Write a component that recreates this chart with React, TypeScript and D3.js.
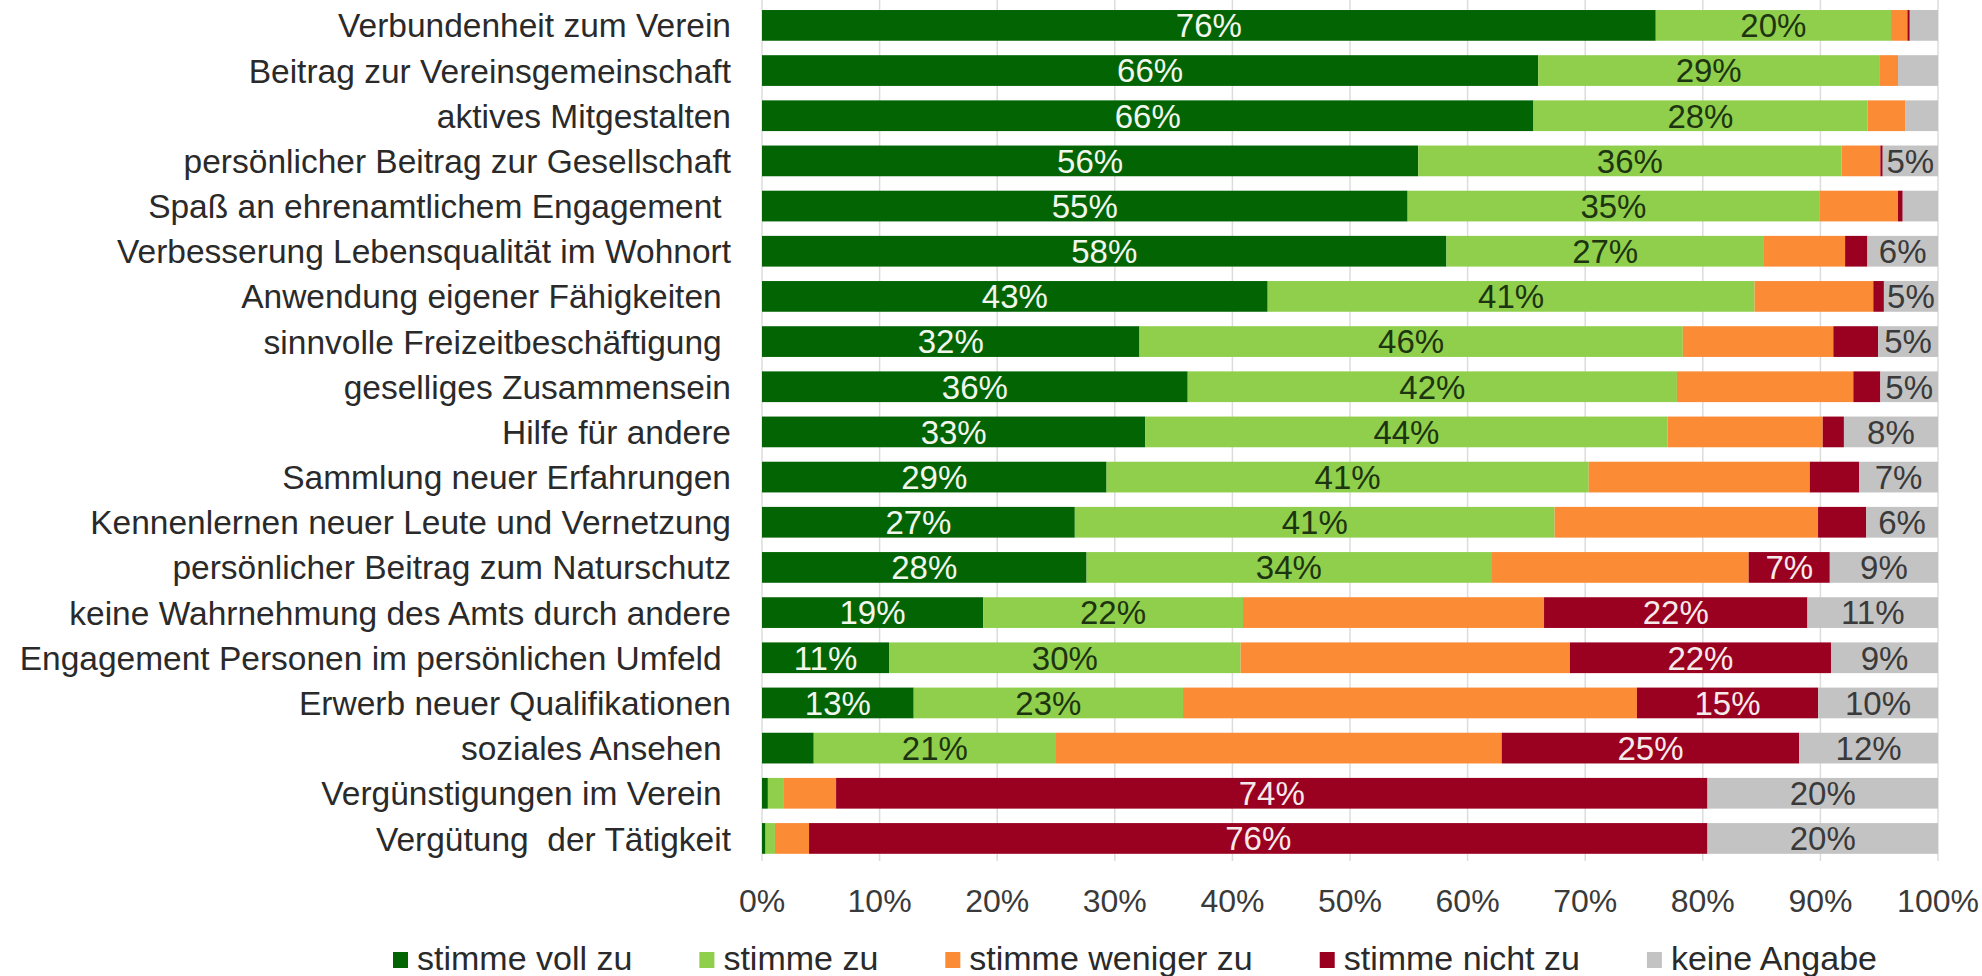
import React, { useEffect, useRef } from "react";
import * as d3 from "d3";

const categories = [
  "Verbundenheit zum Verein",
  "Beitrag zur Vereinsgemeinschaft",
  "aktives Mitgestalten",
  "persönlicher Beitrag zur Gesellschaft",
  "Spaß an ehrenamtlichem Engagement ",
  "Verbesserung Lebensqualität im Wohnort",
  "Anwendung eigener Fähigkeiten ",
  "sinnvolle Freizeitbeschäftigung ",
  "geselliges Zusammensein",
  "Hilfe für andere",
  "Sammlung neuer Erfahrungen",
  "Kennenlernen neuer Leute und Vernetzung",
  "persönlicher Beitrag zum Naturschutz",
  "keine Wahrnehmung des Amts durch andere",
  "Engagement Personen im persönlichen Umfeld ",
  "Erwerb neuer Qualifikationen",
  "soziales Ansehen ",
  "Vergünstigungen im Verein ",
  "Vergütung  der Tätigkeit",
];

const stimmeVollZu = [76, 66, 65.6, 55.8, 54.9, 58.2, 43.0, 32.1, 36.2, 32.6, 29.3, 26.6, 27.6, 18.8, 10.8, 12.9, 4.4, 0.5, 0.3];
const stimmeZu = [20, 29, 28.4, 36.0, 35.0, 27.0, 41.4, 46.2, 41.6, 44.4, 41.0, 40.8, 34.4, 22.1, 29.9, 22.9, 20.6, 1.3, 0.8];
const stimmeWenigerZu = [1.4, 1.6, 3.2, 3.3, 6.7, 6.9, 10.1, 12.8, 15.0, 13.2, 18.8, 22.4, 21.9, 25.6, 28.0, 38.6, 37.9, 4.5, 2.9];
const stimmeNichtZu = [0.2, 0, 0, 0.2, 0.4, 1.9, 0.9, 3.8, 2.3, 1.8, 4.2, 4.1, 6.9, 22.4, 22.2, 15.4, 25.3, 74.1, 76.4];
const keineAngabe = [2.4, 3.4, 2.8, 4.7, 3.0, 6.0, 4.6, 5.1, 4.9, 8.0, 6.7, 6.1, 9.2, 11.1, 9.1, 10.2, 11.8, 19.6, 19.6];

const seriesNames = ["stimme voll zu", "stimme zu", "stimme weniger zu", "stimme nicht zu", "keine Angabe"];
const seriesValues = [stimmeVollZu, stimmeZu, stimmeWenigerZu, stimmeNichtZu, keineAngabe];
const seriesColors = ["#036403", "#8fcf4c", "#fb8b35", "#9a0020", "#c3c3c3"];
const labelColors = ["#f2f7ee", "#1d3410", null, "#f5eaea", "#3a3a3a"];
const xTicks = [0, 10, 20, 30, 40, 50, 60, 70, 80, 90, 100];

const W = 1982;
const H = 976;
const FONT = "'Liberation Sans', Arial, sans-serif";

export default function App() {
  const ref = useRef<SVGSVGElement>(null);

  useEffect(() => {
    const svg = d3.select(ref.current);
    svg.selectAll("*").remove();

    const x = d3.scaleLinear().domain([0, 100]).range([762, 1938]);
    const y = d3
      .scaleBand<string>()
      .domain(categories)
      .range([2.8, 2.8 + 45.17 * categories.length])
      .paddingInner(0.32)
      .paddingOuter(0.16);

    svg.append("rect").attr("width", W).attr("height", H).attr("fill", "#ffffff");

    // gridlines
    const plotBottom = 2.8 + 45.17 * categories.length;
    svg
      .append("g")
      .selectAll("line")
      .data(xTicks)
      .join("line")
      .attr("x1", (d) => x(d))
      .attr("x2", (d) => x(d))
      .attr("y1", 0)
      .attr("y2", plotBottom)
      .attr("stroke", "#dcdcdc")
      .attr("stroke-width", 1.5);

    // stacked data
    const rows = categories.map((c, i) => {
      const obj: any = { category: c };
      seriesNames.forEach((s, k) => (obj[s] = seriesValues[k][i]));
      return obj;
    });
    const stack = d3.stack<any>().keys(seriesNames)(rows);

    const gBars = svg.append("g");
    stack.forEach((layer, k) => {
      const g = gBars.append("g").attr("fill", seriesColors[k]);
      g.selectAll("rect")
        .data(layer)
        .join("rect")
        .attr("x", (d) => x(d[0]))
        .attr("width", (d) => Math.max(0, x(d[1]) - x(d[0])))
        .attr("y", (d) => y(d.data.category)!)
        .attr("height", y.bandwidth());
    });

    // data labels
    const gLab = svg.append("g").attr("font-family", FONT).attr("font-size", 33).attr("text-anchor", "middle");
    stack.forEach((layer, k) => {
      if (!labelColors[k]) return;
      gLab
        .append("g")
        .attr("fill", labelColors[k]!)
        .selectAll("text")
        .data(layer.filter((d) => d[1] - d[0] >= 4.5))
        .join("text")
        .attr("x", (d) => x((d[0] + d[1]) / 2))
        .attr("y", (d) => y(d.data.category)! + y.bandwidth() / 2)
        .attr("dy", "0.36em")
        .text((d) => `${Math.round(d[1] - d[0])}%`);
    });

    // category labels
    svg
      .append("g")
      .attr("font-family", FONT)
      .attr("font-size", 33.5)
      .attr("fill", "#2a2a2a")
      .attr("text-anchor", "end")
      .selectAll("text")
      .data(categories)
      .join("text")
      .attr("xml:space", "preserve")
      .style("white-space", "pre")
      .attr("x", 731)
      .attr("y", (d) => y(d)! + y.bandwidth() / 2)
      .attr("dy", "0.36em")
      .text((d) => d);

    // x tick labels
    svg
      .append("g")
      .attr("font-family", FONT)
      .attr("font-size", 32)
      .attr("fill", "#3a3a3a")
      .attr("text-anchor", "middle")
      .selectAll("text")
      .data(xTicks)
      .join("text")
      .attr("x", (d) => x(d))
      .attr("y", 912)
      .text((d) => `${d}%`);

    // legend
    const gLeg = svg.append("g").attr("font-family", FONT).attr("font-size", 34).attr("fill", "#2a2a2a");
    let lx = 393;
    seriesNames.forEach((name, k) => {
      gLeg
        .append("rect")
        .attr("x", lx)
        .attr("y", 952)
        .attr("width", 15)
        .attr("height", 16)
        .attr("fill", seriesColors[k]);
      const t = gLeg
        .append("text")
        .attr("x", lx + 24)
        .attr("y", 970)
        .text(name);
      const w = (t.node() as SVGTextElement).getComputedTextLength();
      lx = lx + 24 + w + 67;
    });
  }, []);

  return (
    <svg
      ref={ref}
      width={W}
      height={H}
      style={{ position: "absolute", left: 0, top: 0, display: "block" }}
    />
  );
}
